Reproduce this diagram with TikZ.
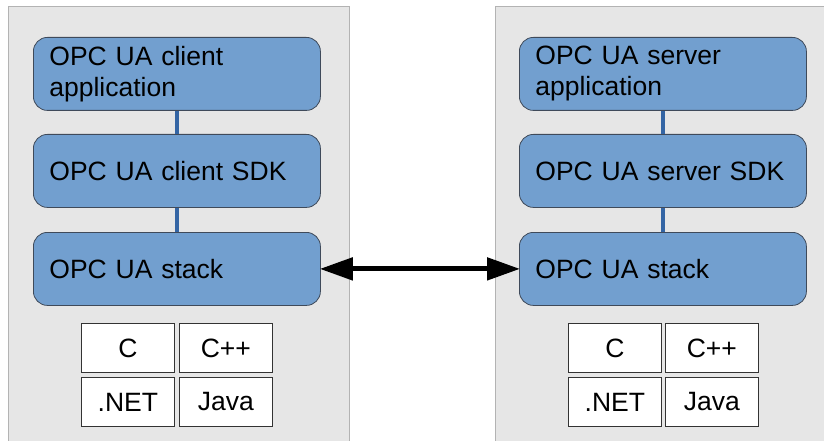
\documentclass[tikz,border=0pt]{standalone}
\usepackage{fontspec}
\setmainfont{Liberation Sans}
\usetikzlibrary{arrows.meta}
\definecolor{panelfill}{HTML}{E6E6E6}
\definecolor{panelline}{HTML}{B3B3B3}
\definecolor{layerfill}{HTML}{729FCF}
\definecolor{layerline}{HTML}{3F4A5A}
\definecolor{linkblue}{HTML}{3465A4}
\tikzset{
  panel/.style={draw=panelline, fill=panelfill, line width=1pt},
  layer/.style={draw=layerline, fill=layerfill, line width=0.8pt, rounded corners=14pt,
    text width=255pt, inner xsep=16pt, inner ysep=0pt, minimum height=73pt,
    align=left, font=\fontsize{26.5}{31}\selectfont, anchor=north west},
  lang/.style={draw=black!80, fill=white, line width=0.8pt, minimum width=93pt,
    minimum height=49pt, inner sep=0pt, font=\fontsize{26.5}{31}\selectfont, anchor=north west},
  link/.style={draw=linkblue, line width=4pt},
  msg/.style={draw=black, line width=5pt, {Triangle[length=33pt,width=22pt]}-{Triangle[length=33pt,width=22pt]}, shorten <=-1pt, shorten >=-1pt}
}
\begin{document}
\begin{tikzpicture}[x=1pt, y=-1pt]
  \useasboundingbox (0,0) rectangle (824,441);
  \begin{scope}
    \clip (0,0) rectangle (824,441);
    % client and server panels
    \draw[panel] (8,7) rectangle (349,460);
    \draw[panel] (495,7) rectangle (840,460);
  \end{scope}
  % client stack
  \node[layer] (capp) at (33,37) {OPC UA client\\application};
  \node[layer] (csdk) at (33,134) {OPC UA client SDK};
  \node[layer] (cstk) at (33,232) {OPC UA stack};
  \draw[link] (capp.south -| 177,0) -- (csdk.north -| 177,0);
  \draw[link] (csdk.south -| 177,0) -- (cstk.north -| 177,0);
  \node[lang] (cc) at (81,323) {C};
  \node[lang] (ccpp) at (179,323) {C++};
  \node[lang] (cnet) at (81,377) {.NET};
  \node[lang] (cjava) at (179,377) {Java};
  % server stack
  \node[layer] (sapp) at (519,37) {OPC UA server\\application};
  \node[layer] (ssdk) at (519,134) {OPC UA server SDK};
  \node[layer] (sstk) at (519,232) {OPC UA stack};
  \draw[link] (sapp.south -| 663,0) -- (ssdk.north -| 663,0);
  \draw[link] (ssdk.south -| 663,0) -- (sstk.north -| 663,0);
  \node[lang] (sc) at (568,323) {C};
  \node[lang] (scpp) at (665,323) {C++};
  \node[lang] (snet) at (568,377) {.NET};
  \node[lang] (sjava) at (665,377) {Java};
  % message exchange between the stacks
  \draw[msg] (cstk.east) -- (sstk.west);
\end{tikzpicture}
\end{document}
